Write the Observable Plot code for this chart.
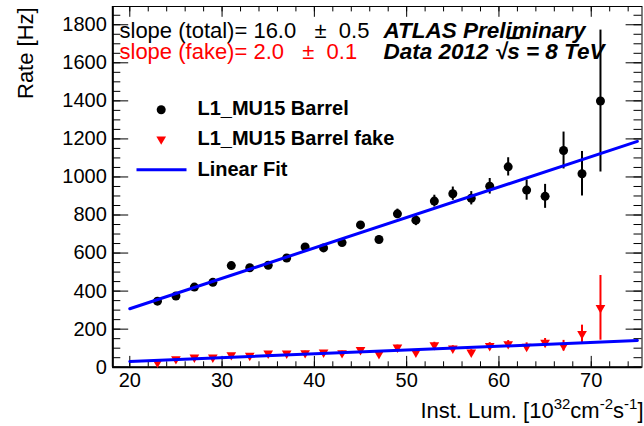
<!DOCTYPE html>
<html>
<head>
<meta charset="utf-8">
<script src="https://cdn.jsdelivr.net/npm/d3@7"></script>
<script src="https://cdn.jsdelivr.net/npm/@observablehq/plot@0.6"></script>
<style>
  html, body { margin: 0; padding: 0; background: #fff; }
  #chart svg { display: block; }
</style>
</head>
<body>
<div id="chart"></div>
<script>
// Instantaneous luminosity bins [10^32 cm^-2 s^-1]
const lumi = [23, 25, 27, 29, 31, 33, 35, 37, 39, 41, 43, 45, 47, 49, 51, 53, 55, 57, 59, 61, 63, 65, 67, 69, 71];

// L1_MU15 barrel trigger rate [Hz] and its uncertainty
const rateTotal = [347, 374, 421, 446, 534, 523, 536, 574, 632, 627, 655, 748, 671, 806, 773, 873, 912, 888, 951, 1053, 931, 898, 1139, 1017, 1399];
const errTotal  = [8, 9, 10, 10, 11, 11, 12, 12, 13, 14, 15, 17, 19, 25, 29, 31, 35, 35, 41, 48, 53, 63, 97, 117, 373];

// Fake component of the same trigger rate [Hz]
const rateFake = [25, 43, 52, 52, 64, 61, 73, 73, 75, 78, 75, 91, 70, 104, 78, 117, 99, 78, 112, 122, 108, 129, 113, 175, 312];
const errFake  = [6, 7, 7, 7, 8, 8, 8, 9, 9, 9, 9, 10, 10, 12, 12, 14, 14, 14, 17, 18, 20, 22, 28, 46, 170];

// Linear fit results and the range they are drawn over
const fitRange = [20, 75];
const fitTotal = {slope: 16.0, intercept: -13};
const fitFake = {slope: 2.0, intercept: -10};

// Axis ticks
const xTickValues = [20, 30, 40, 50, 60, 70];
const xMinorValues = d3.range(20, 75.1, 2);
const yTickValues = [0, 200, 400, 600, 800, 1000, 1200, 1400, 1600, 1800];
const yMinorValues = d3.range(0, 1851, 50);

// Texts
const slopeTotalText = "slope (total)= 16.0\u00a0\u00a0\u00a0±\u00a0\u00a00.5";
const slopeFakeText = "slope (fake)= 2.0\u00a0\u00a0\u00a0±\u00a0\u00a00.1";
const atlasText = "ATLAS Preliminary";
const energyParts = [{text: "Data 2012 √"}, {text: "s", overline: true}, {text: " = 8 TeV"}];
const legendLabels = ["L1_MU15 Barrel", "L1_MU15 Barrel fake", "Linear Fit"];
const yTitle = "Rate [Hz]";
const xTitleParts = [
  {text: "Inst. Lum. [10"}, {text: "32", sup: true}, {text: "cm"}, {text: "-2", sup: true},
  {text: "s"}, {text: "-1", sup: true}, {text: "]"}
];
const joined = (parts) => parts.map((p) => p.text).join("");

const total = lumi.map((x, i) => ({x, y: rateTotal[i], e: errTotal[i]}));
const fake = lumi.map((x, i) => ({x, y: rateFake[i], e: errFake[i]}));
const fitLine = (f) => fitRange.map((x) => ({x, y: f.slope * x + f.intercept}));

// Frame geometry
const width = 644, height = 426;
const mL = 112.3, mR = 2.5, mT = 6, mB = 59.3;
const innerW = width - mL - mR, innerH = height - mT - mB;

const BLUE = "#0000ff", RED = "#ff0000";
const FONT = '"Liberation Sans", Arial, Helvetica, sans-serif';
const DOT_R = 4.5, TRI_R = 3.6;

// Horizontal stroke used as the legend key of the fit line
const lineSymbol = {
  draw(context, size) {
    const r = Math.sqrt(size / Math.PI);
    context.moveTo(-r, 0);
    context.lineTo(r, 0);
  }
};

// legend rows: baseline offsets from the frame top
const legendRows = [108.3, 138.5, 169];
const legendText = (label, i) => Plot.text([label], {frameAnchor: "top-left", textAnchor: "start", lineAnchor: "bottom",
  dx: 84.7, dy: legendRows[i], fontSize: 20, fontWeight: "bold", fill: "black"});

const chart = Plot.plot({
  width, height,
  marginLeft: mL, marginRight: mR, marginTop: mT, marginBottom: mB,
  style: {fontFamily: FONT, fontSize: "20px", color: "black", background: "white", overflow: "visible"},
  x: {domain: [18.16, 75.5]},
  y: {domain: [0, 1896]},
  marks: [
    Plot.frame({stroke: "black", strokeWidth: 1}),
    Plot.ruleY([0], {stroke: "black", strokeWidth: 2}),
    Plot.ruleX([18.16], {stroke: "black", strokeWidth: 2}),

    // inward ticks on all four sides
    Plot.tickY(yMinorValues, {y: (d) => d, insetRight: innerW - 8, stroke: "black"}),
    Plot.tickY(yMinorValues, {y: (d) => d, insetLeft: innerW - 8, stroke: "black"}),
    Plot.tickY(yTickValues, {y: (d) => d, insetRight: innerW - 15.9, stroke: "black"}),
    Plot.tickY(yTickValues, {y: (d) => d, insetLeft: innerW - 15.9, stroke: "black"}),
    Plot.tickX(xMinorValues, {x: (d) => d, insetTop: innerH - 5.4, stroke: "black"}),
    Plot.tickX(xMinorValues, {x: (d) => d, insetBottom: innerH - 5.4, stroke: "black"}),
    Plot.tickX(xTickValues, {x: (d) => d, insetTop: innerH - 10.8, stroke: "black"}),
    Plot.tickX(xTickValues, {x: (d) => d, insetBottom: innerH - 10.8, stroke: "black"}),

    Plot.axisY(yTickValues, {tickSize: 0, tickPadding: 6, fontSize: 20, tickFormat: "d", label: null}),
    Plot.axisX(xTickValues, {tickSize: 0, tickPadding: 6, fontSize: 20, tickFormat: "d", label: null}),

    // axis titles
    Plot.text([yTitle], {frameAnchor: "top-left", rotate: -90, textAnchor: "end", lineAnchor: "bottom",
      dx: 32.5 - mL, dy: 0.8, fontSize: 22}),
    Plot.text([joined(xTitleParts)], {frameAnchor: "bottom-right", textAnchor: "end", lineAnchor: "bottom",
      dx: 1.5, dy: 50.5, fontSize: 22}),

    // error bars
    Plot.ruleX(total, {x: "x", y1: (d) => d.y - d.e, y2: (d) => d.y + d.e, stroke: "black", strokeWidth: 2}),
    Plot.ruleX(fake, {x: "x", y1: (d) => d.y - d.e, y2: (d) => d.y + d.e, stroke: RED, strokeWidth: 2}),

    // measured rates
    Plot.dot(total, {x: "x", y: "y", r: DOT_R, fill: "black", stroke: "none"}),
    Plot.dot(fake, {x: "x", y: "y", r: TRI_R, symbol: "triangle", rotate: 180, fill: RED, stroke: "none"}),

    // linear fits
    Plot.line(fitLine(fitTotal), {x: "x", y: "y", stroke: BLUE, strokeWidth: 3}),
    Plot.line(fitLine(fitFake), {x: "x", y: "y", stroke: BLUE, strokeWidth: 3}),

    // fit results
    Plot.text([slopeTotalText], {frameAnchor: "top-left", textAnchor: "start", lineAnchor: "bottom",
      dx: 6.7, dy: 31, fontSize: 22, fill: "black"}),
    Plot.text([slopeFakeText], {frameAnchor: "top-left", textAnchor: "start", lineAnchor: "bottom",
      dx: 6.7, dy: 52.5, fontSize: 22, fill: RED}),

    // experiment label
    Plot.text([atlasText], {frameAnchor: "top-left", textAnchor: "start", lineAnchor: "bottom",
      dx: 270.7, dy: 31.3, fontSize: 22.5, fontWeight: "bold", fontStyle: "italic", fill: "black"}),
    Plot.text([joined(energyParts)], {frameAnchor: "top-left", textAnchor: "start", lineAnchor: "bottom",
      dx: 270.7, dy: 52.4, fontSize: 22.5, fontWeight: "bold", fontStyle: "italic", fill: "black"}),

    // legend
    Plot.dot([0], {frameAnchor: "top-left", dx: 48.4, dy: 103.3, r: DOT_R, fill: "black", stroke: "none"}),
    Plot.dot([0], {frameAnchor: "top-left", dx: 48.4, dy: 132.7, r: TRI_R, symbol: "triangle", rotate: 180, fill: RED, stroke: "none"}),
    Plot.dot([0], {frameAnchor: "top-left", dx: 48.7, dy: 163.3, r: 25, symbol: lineSymbol, fill: "none", stroke: BLUE, strokeWidth: 3}),
    ...legendLabels.map(legendText)
  ]
});

// Rebuild texts that need superscripts or an overline as tspans
const svg = d3.select(chart);
function setRichText(parts) {
  const full = joined(parts);
  const text = svg.selectAll("text").filter(function() { return this.textContent === full; });
  text.text(null);
  let shift = 0;
  for (const p of parts) {
    const t = text.append("tspan").text(p.text);
    const target = p.sup ? -8.5 : 0;
    if (target !== shift) { t.attr("dy", target - shift); shift = target; }
    if (p.sup) t.attr("font-size", 15);
    if (p.overline) t.style("text-decoration", "overline");
  }
}
setRichText(xTitleParts);
setRichText(energyParts);

document.getElementById("chart").appendChild(chart);
</script>
</body>
</html>
